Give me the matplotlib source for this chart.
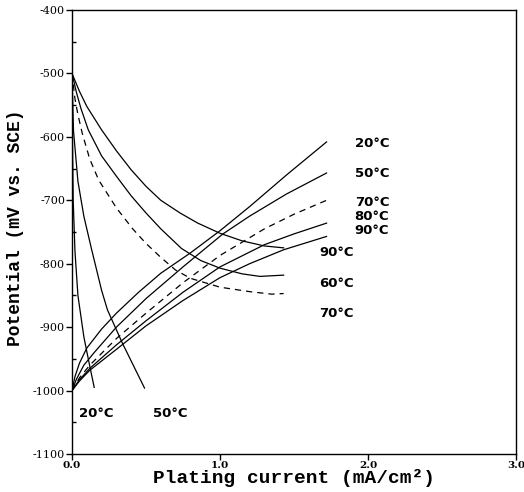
import matplotlib
matplotlib.use("Agg")
import matplotlib.pyplot as plt
from matplotlib.ticker import MultipleLocator

# =========================================================
# Curves: plating current [mA/cm2], potential [mV vs SCE]
# =========================================================
# falling branches (start at -500 mV)
fall_20_x = [0.0, 0.003, 0.008, 0.02, 0.04, 0.08, 0.11, 0.15]
fall_20_y = [-500, -600, -700, -780, -850, -915, -950, -995]

fall_50_x = [0.0, 0.01, 0.04, 0.08, 0.13, 0.20, 0.24, 0.34, 0.49]
fall_50_y = [-500, -590, -670, -725, -775, -842, -873, -925, -996]

fall_70_x = [0.0, 0.02, 0.04, 0.07, 0.12, 0.18, 0.30, 0.41, 0.50, 0.60, 0.70, 0.80, 1.00, 1.20, 1.35, 1.43]
fall_70_y = [-500, -540, -565, -595, -635, -668, -712, -745, -768, -790, -810, -823, -837, -844, -848, -847]

fall_80_x = [0.0, 0.03, 0.06, 0.11, 0.20, 0.30, 0.40, 0.50, 0.60, 0.74, 0.87, 1.00, 1.15, 1.27, 1.43]
fall_80_y = [-500, -530, -555, -589, -630, -662, -693, -720, -745, -776, -795, -807, -816, -820, -818]

fall_90_x = [0.0, 0.05, 0.10, 0.20, 0.30, 0.40, 0.50, 0.60, 0.73, 0.85, 1.00, 1.15, 1.30, 1.43]
fall_90_y = [-500, -528, -552, -589, -622, -652, -678, -700, -720, -736, -752, -764, -772, -775]

# rising branches (start at -1000 mV)
rise_20_x = [0.0, 0.02, 0.05, 0.10, 0.20, 0.30, 0.45, 0.60, 0.80, 1.00, 1.20, 1.45, 1.72]
rise_20_y = [-1000, -978, -957, -933, -903, -878, -845, -815, -783, -748, -710, -660, -608]

rise_50_x = [0.0, 0.03, 0.08, 0.15, 0.30, 0.50, 0.75, 1.02, 1.20, 1.45, 1.72]
rise_50_y = [-1000, -982, -960, -940, -900, -855, -805, -753, -725, -690, -657]

rise_70_x = [0.0, 0.05, 0.12, 0.30, 0.50, 0.75, 1.00, 1.30, 1.50, 1.72]
rise_70_y = [-1000, -980, -960, -918, -878, -830, -787, -745, -722, -700]

rise_80_x = [0.0, 0.05, 0.12, 0.30, 0.50, 0.75, 1.00, 1.30, 1.50, 1.72]
rise_80_y = [-1000, -983, -965, -928, -890, -845, -805, -770, -753, -736]

rise_90_x = [0.0, 0.05, 0.12, 0.30, 0.50, 0.75, 1.00, 1.20, 1.43, 1.72]
rise_90_y = [-1000, -985, -968, -935, -898, -858, -822, -800, -778, -757]

# curve labels: text, x, y
label_text = ["20°C", "50°C", "70°C", "80°C", "90°C", "90°C", "60°C", "70°C", "20°C", "50°C"]
label_x = [1.91, 1.91, 1.91, 1.91, 1.91, 1.67, 1.67, 1.67, 0.05, 0.55]
label_y = [-610, -657, -703, -726, -747, -783, -831, -878, -1036, -1036]

x_ticks = [0.0, 1.0, 2.0, 3.0]
x_tick_labels = ["0.0", "1.0", "2.0", "3.0"]
y_ticks = [-1100, -1000, -900, -800, -700, -600, -500, -400]
y_tick_labels = ["-1100", "-1000", "-900", "-800", "-700", "-600", "-500", "-400"]

# =========================================================
# Plot
# =========================================================
fig = plt.figure(figsize=(5.24, 4.92), dpi=100)
ax = fig.add_axes([0.1374, 0.0772, 0.8473, 0.9025])

lw = 0.9
dash = (0, (5, 4))
ax.plot(fall_20_x, fall_20_y, 'k-', lw=lw)
ax.plot(fall_50_x, fall_50_y, 'k-', lw=lw)
ax.plot(fall_70_x, fall_70_y, 'k', lw=lw, linestyle=dash)
ax.plot(fall_80_x, fall_80_y, 'k-', lw=lw)
ax.plot(fall_90_x, fall_90_y, 'k-', lw=lw)

ax.plot(rise_20_x, rise_20_y, 'k-', lw=lw)
ax.plot(rise_50_x, rise_50_y, 'k-', lw=lw)
ax.plot(rise_70_x, rise_70_y, 'k', lw=lw, linestyle=dash)
ax.plot(rise_80_x, rise_80_y, 'k-', lw=lw)
ax.plot(rise_90_x, rise_90_y, 'k-', lw=lw)

for t, x, y in zip(label_text, label_x, label_y):
    ax.text(x, y, t, fontsize=9.5, fontweight='bold', family='DejaVu Sans',
            ha='left', va='center')

ax.set_xlim(0, 3.0)
ax.set_ylim(-1100, -400)
ax.set_xticks(x_ticks)
ax.set_xticklabels(x_tick_labels, fontsize=7.5, family='DejaVu Serif', fontweight='bold')
ax.set_yticks(y_ticks)
ax.set_yticklabels(y_tick_labels, fontsize=8, family='DejaVu Serif')
ax.yaxis.set_minor_locator(MultipleLocator(50))
ax.tick_params(which='major', direction='out', length=4, width=1, pad=1)
ax.tick_params(which='minor', direction='in', length=3, width=1)

for s in ax.spines.values():
    s.set_linewidth(1.0)

ax.set_xlabel("Plating current (mA/cm²)", fontsize=14, family='Liberation Mono',
              fontweight='bold', labelpad=-1)
ax.set_ylabel("Potential (mV vs. SCE)", fontsize=13, family='Liberation Mono',
              fontweight='bold')
ax.yaxis.set_label_coords(-0.108, 0.51)

fig.savefig("out.png", dpi=100)
